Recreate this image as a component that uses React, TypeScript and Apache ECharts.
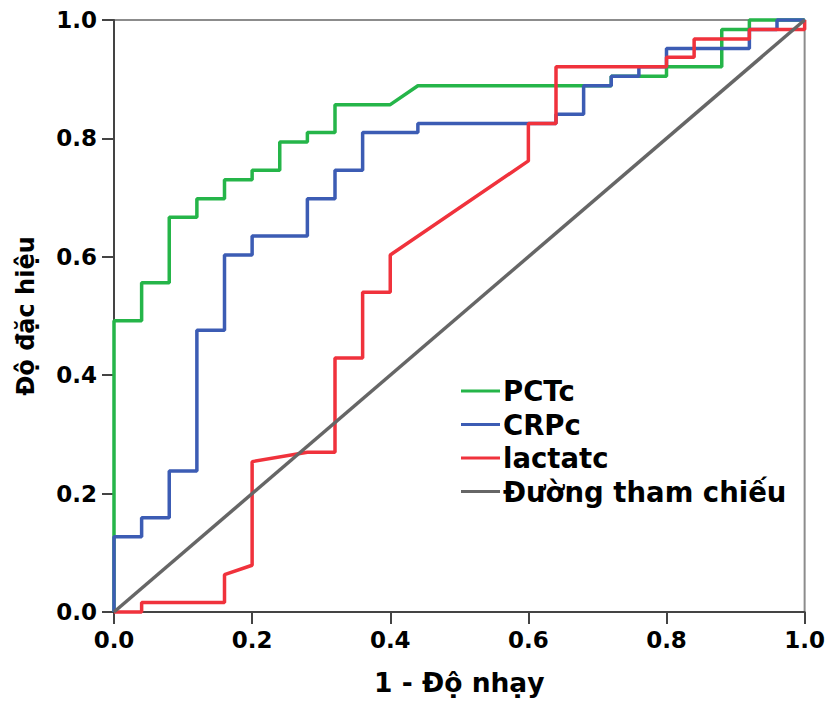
import React, { useEffect, useRef } from "react";
import * as echarts from "echarts";

const xTickLabels = ["0.0", "0.2", "0.4", "0.6", "0.8", "1.0"];
const seriesNames = ["PCTc", "CRPc", "lactatc", "Đường tham chiếu"];
const seriesColors = ["#25b549", "#3c5cb4", "#f0323c", "#666666"];

const pctcPoints: [number, number][] = [
  [0, 0], [0, 0.492], [0.04, 0.492], [0.04, 0.556], [0.08, 0.556], [0.08, 0.667],
  [0.12, 0.667], [0.12, 0.698], [0.16, 0.698], [0.16, 0.73], [0.2, 0.73], [0.2, 0.746],
  [0.24, 0.746], [0.24, 0.794], [0.28, 0.794], [0.28, 0.81], [0.32, 0.81], [0.32, 0.857],
  [0.4, 0.857], [0.44, 0.889], [0.72, 0.889], [0.72, 0.905], [0.8, 0.905], [0.8, 0.921],
  [0.88, 0.921], [0.88, 0.984], [0.92, 0.984], [0.92, 1], [1, 1],
];

const crpcPoints: [number, number][] = [
  [0, 0], [0, 0.127], [0.04, 0.127], [0.04, 0.159], [0.08, 0.159], [0.08, 0.238],
  [0.12, 0.238], [0.12, 0.476], [0.16, 0.476], [0.16, 0.603], [0.2, 0.603], [0.2, 0.635],
  [0.28, 0.635], [0.28, 0.698], [0.32, 0.698], [0.32, 0.746], [0.36, 0.746], [0.36, 0.81],
  [0.44, 0.81], [0.44, 0.825], [0.64, 0.825], [0.64, 0.841], [0.68, 0.841], [0.68, 0.889],
  [0.72, 0.889], [0.72, 0.905], [0.76, 0.905], [0.76, 0.921], [0.8, 0.921], [0.8, 0.952],
  [0.92, 0.952], [0.92, 0.984], [0.96, 0.984], [0.96, 1], [1, 1],
];

const lactatcPoints: [number, number][] = [
  [0, 0], [0.04, 0], [0.04, 0.016], [0.16, 0.016], [0.16, 0.063], [0.2, 0.079],
  [0.2, 0.254], [0.28, 0.27], [0.32, 0.27], [0.32, 0.429], [0.36, 0.429], [0.36, 0.54],
  [0.4, 0.54], [0.4, 0.603], [0.6, 0.762], [0.6, 0.825], [0.64, 0.825], [0.64, 0.921],
  [0.8, 0.921], [0.8, 0.937], [0.84, 0.937], [0.84, 0.968], [0.92, 0.968], [0.92, 0.984],
  [1, 0.984], [1, 1],
];

const referencePoints: [number, number][] = [[0, 0], [1, 1]];

const FONT = "'DejaVu Sans', sans-serif";

export default function App() {
  const ref = useRef<HTMLDivElement>(null);
  useEffect(() => {
    if (!ref.current) return;
    const chart = echarts.init(ref.current, undefined, { renderer: "svg" });
    const allSeries = [pctcPoints, crpcPoints, lactatcPoints, referencePoints];
    chart.setOption({
      animation: false,
      backgroundColor: "#ffffff",
      grid: {
        left: 114, right: 22, top: 20, bottom: 88,
        show: true, borderColor: "#8c8c8c", borderWidth: 2, backgroundColor: "transparent",
      },
      legend: {
        orient: "vertical",
        left: 456,
        top: 372,
        icon: "rect",
        itemWidth: 39,
        itemHeight: 3,
        itemGap: 5.5,
        data: seriesNames,
        textStyle: {
          fontFamily: FONT, fontWeight: "bold", fontSize: 27.5, color: "#000",
          padding: [0, 0, 0, -2],
        },
      },
      xAxis: {
        type: "value", min: 0, max: 1, interval: 0.2,
        name: "1 - Độ nhạy", nameLocation: "middle", nameGap: 57,
        nameTextStyle: { fontFamily: FONT, fontWeight: "bold", fontSize: 26.5, color: "#000" },
        axisLine: { show: true, onZero: false, lineStyle: { color: "#444", width: 2 } },
        axisTick: { show: true, length: 12, lineStyle: { color: "#444", width: 2 } },
        axisLabel: {
          margin: 16, fontFamily: FONT, fontWeight: "bold", fontSize: 23, color: "#000",
          formatter: (v: number) => xTickLabels[Math.round(v * 5)] ?? v.toFixed(1),
        },
        splitLine: { show: false },
      },
      yAxis: {
        type: "value", min: 0, max: 1, interval: 0.2,
        name: "Độ đặc hiệu", nameLocation: "middle", nameGap: 76,
        nameTextStyle: { fontFamily: FONT, fontWeight: "bold", fontSize: 24, color: "#000" },
        axisLine: { show: true, onZero: false, lineStyle: { color: "#444", width: 2 } },
        axisTick: { show: true, length: 12, lineStyle: { color: "#444", width: 2 } },
        axisLabel: {
          margin: 17, fontFamily: FONT, fontWeight: "bold", fontSize: 23, color: "#000",
          formatter: (v: number) => v.toFixed(1),
        },
        splitLine: { show: false },
      },
      series: allSeries.map((pts, i) => ({
        name: seriesNames[i],
        type: "line",
        data: pts,
        showSymbol: false,
        symbol: "none",
        clip: false,
        color: seriesColors[i],
        lineStyle: { color: seriesColors[i], width: 3.5 },
        z: 2 + i,
      })),
    });
    return () => chart.dispose();
  }, []);
  return (
    <div
      ref={ref}
      style={{ position: "fixed", left: 0, top: 0, width: 828, height: 701, background: "#fff" }}
    />
  );
}
